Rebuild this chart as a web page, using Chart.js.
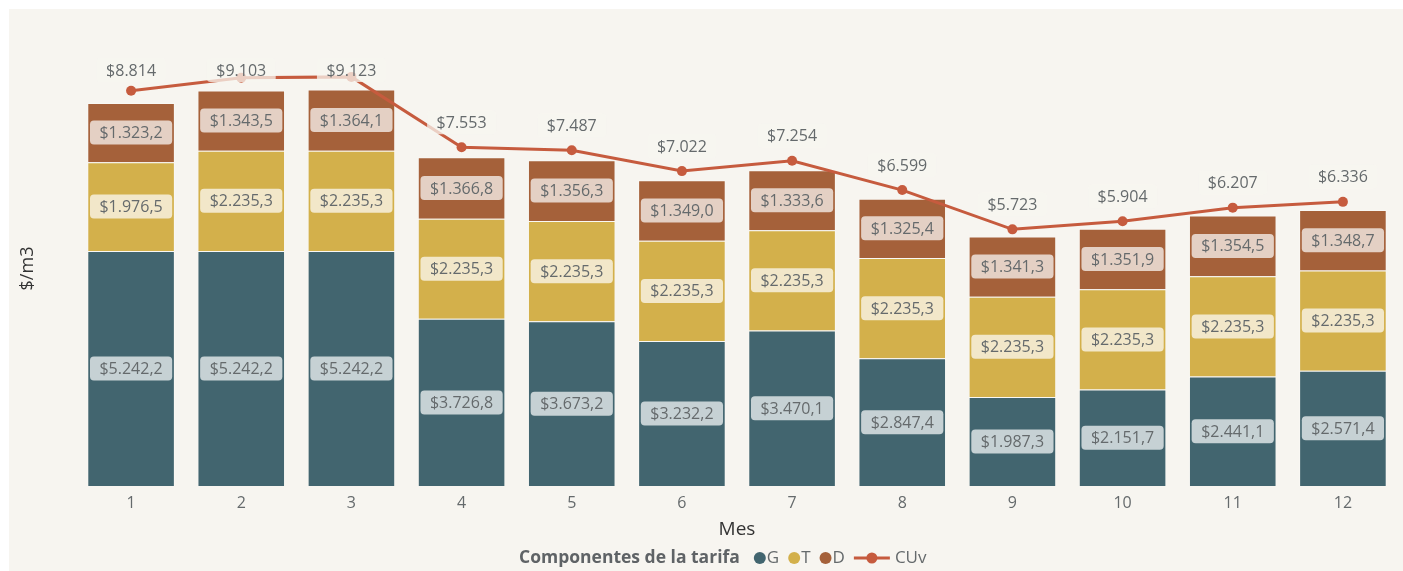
<!DOCTYPE html>
<html>
<head>
<meta charset="utf-8">
<script src="https://cdn.jsdelivr.net/npm/chart.js@4.4.1/dist/chart.umd.min.js"></script>
<style>
  html, body { margin: 0; padding: 0; background: #ffffff; }
  #wrap { width: 1403px; height: 571px; position: relative; }
</style>
</head>
<body>
<div id="wrap"><canvas id="tarifaChart" width="1403" height="571"></canvas></div>
<script>
// ─── Data ───
const meses = ['1', '2', '3', '4', '5', '6', '7', '8', '9', '10', '11', '12'];
const valoresG = [5242.2, 5242.2, 5242.2, 3726.8, 3673.2, 3232.2, 3470.1, 2847.4, 1987.3, 2151.7, 2441.1, 2571.4];
const valoresT = [1976.5, 2235.3, 2235.3, 2235.3, 2235.3, 2235.3, 2235.3, 2235.3, 2235.3, 2235.3, 2235.3, 2235.3];
const valoresD = [1323.2, 1343.5, 1364.1, 1366.8, 1356.3, 1349.0, 1333.6, 1325.4, 1341.3, 1351.9, 1354.5, 1348.7];
const valoresCUv = [8814, 9103, 9123, 7553, 7487, 7022, 7254, 6599, 5723, 5904, 6207, 6336];

const FONT = "'Open Sans', sans-serif";
const BG = '#f7f5f0';
const TEXT_GRAY = '#656a6c';

// 1.323,2 style formatting (dots for thousands, comma for decimals)
const fmt = (v, dec) => {
    const parts = v.toFixed(dec).split('.');
    const int = parts[0].replace(/\B(?=(\d{3})+(?!\d))/g, '.');
    return '$' + (parts[1] ? int + ',' + parts[1] : int);
};

const roundBox = (ctx, x, y, w, h, r) => {
    ctx.beginPath();
    ctx.moveTo(x + r, y);
    ctx.arcTo(x + w, y, x + w, y + h, r);
    ctx.arcTo(x + w, y + h, x, y + h, r);
    ctx.arcTo(x, y + h, x, y, r);
    ctx.arcTo(x, y, x + w, y, r);
    ctx.closePath();
};

const drawLabel = (ctx, text, cx, cy, fill) => {
    ctx.font = `16px ${FONT}`;
    const w = ctx.measureText(text).width + 19;
    const h = 24;
    ctx.fillStyle = fill;
    roundBox(ctx, cx - w / 2, cy - h / 2, w, h, 4);
    ctx.fill();
    ctx.fillStyle = TEXT_GRAY;
    ctx.textAlign = 'center';
    ctx.textBaseline = 'middle';
    ctx.fillText(text, cx, cy + 1);
};

// background with white margin on top/left
const backgroundPlugin = {
    id: 'bg',
    beforeDraw(chart) {
        const { ctx, width, height } = chart;
        ctx.save();
        ctx.fillStyle = '#ffffff';
        ctx.fillRect(0, 0, width, height);
        ctx.fillStyle = BG;
        ctx.fillRect(9, 9, width - 9, height - 9);
        ctx.restore();
    }
};

const labelsPlugin = {
    id: 'valueLabels',
    afterDatasetsDraw(chart) {
        const { ctx, chartArea } = chart;
        ctx.save();
        chart.data.datasets.forEach((ds, i) => {
            const meta = chart.getDatasetMeta(i);
            meta.data.forEach((el, j) => {
                const v = ds.data[j];
                if (ds.type === 'line') {
                    // labels sit above the point but never above the plot top
                    const cy = Math.max(el.y - 25, chartArea.top + 19);
                    drawLabel(ctx, fmt(v, 0), el.x, cy, 'rgba(247,245,240,0.75)');
                } else {
                    const cy = (el.y + el.base) / 2;
                    drawLabel(ctx, fmt(v, 1), el.x, cy, 'rgba(255,255,255,0.7)');
                }
            });
        });
        ctx.restore();
    }
};

const legendPlugin = {
    id: 'customLegend',
    afterDraw(chart) {
        const { ctx } = chart;
        const y = 558;
        let x = 519;
        ctx.save();
        ctx.textBaseline = 'middle';
        ctx.textAlign = 'left';
        ctx.font = `bold 17.5px ${FONT}`;
        ctx.fillStyle = '#5f6366';
        const title = 'Componentes de la tarifa';
        ctx.fillText(title, x, y);
        x += ctx.measureText(title).width + 20;
        ctx.font = `17px ${FONT}`;
        chart.data.datasets.forEach((ds) => {
            if (ds.type === 'line') {
                ctx.strokeStyle = ds.borderColor;
                ctx.lineWidth = 3;
                ctx.beginPath();
                ctx.moveTo(x - 6, y);
                ctx.lineTo(x + 30, y);
                ctx.stroke();
                ctx.fillStyle = ds.borderColor;
                ctx.beginPath();
                ctx.arc(x + 12, y, 5.5, 0, Math.PI * 2);
                ctx.fill();
                x += 35;
            } else {
                ctx.fillStyle = ds.backgroundColor;
                ctx.beginPath();
                ctx.arc(x, y, 6, 0, Math.PI * 2);
                ctx.fill();
                x += 7;
            }
            ctx.fillStyle = TEXT_GRAY;
            ctx.fillText(ds.label, x, y);
            x += ctx.measureText(ds.label).width + 15;
        });
        ctx.restore();
    }
};

const ctx = document.getElementById('tarifaChart');

new Chart(ctx, {
    type: 'bar',
    data: {
        labels: meses,
        datasets: [
            {
                label: 'G',
                data: valoresG,
                backgroundColor: '#42656f',
                borderColor: 'rgba(255,255,255,0.3)',
                borderWidth: 1,
                order: 1
            },
            {
                label: 'T',
                data: valoresT,
                backgroundColor: '#d3b04b',
                borderColor: 'rgba(255,255,255,0.3)',
                borderWidth: 1,
                order: 1
            },
            {
                label: 'D',
                data: valoresD,
                backgroundColor: '#a5613a',
                borderColor: 'rgba(255,255,255,0.3)',
                borderWidth: 1,
                order: 1
            },
            {
                type: 'line',
                label: 'CUv',
                data: valoresCUv,
                borderColor: '#c65b3e',
                backgroundColor: '#c65b3e',
                borderWidth: 3,
                pointRadius: 5,
                pointBackgroundColor: '#c65b3e',
                pointBorderWidth: 0,
                tension: 0,
                order: 0
            }
        ]
    },
    options: {
        responsive: false,
        animation: false,
        layout: {
            padding: { left: 12, right: 0, top: 51, bottom: 30 }
        },
        datasets: {
            bar: {
                categoryPercentage: 1,
                barPercentage: 0.795
            }
        },
        plugins: {
            legend: { display: false },
            tooltip: { enabled: false }
        },
        scales: {
            x: {
                stacked: true,
                grid: { display: false, drawTicks: false },
                border: { display: false },
                ticks: {
                    color: TEXT_GRAY,
                    padding: 8,
                    font: { family: FONT, size: 16 }
                },
                title: {
                    display: true,
                    text: 'Mes',
                    color: '#333333',
                    padding: { top: 2, bottom: 0 },
                    font: { family: FONT, size: 19 }
                },
                afterFit(scale) {
                    scale.height = 55;
                }
            },
            y: {
                stacked: true,
                min: 0,
                max: 9700,
                grid: { display: false, drawTicks: false },
                border: { display: false },
                ticks: { display: false },
                title: {
                    display: true,
                    text: '$/m3',
                    color: '#333333',
                    padding: { top: 5, bottom: 4 },
                    font: { family: FONT, size: 18 }
                },
                afterFit(scale) {
                    scale.width = 64;
                }
            }
        }
    },
    plugins: [backgroundPlugin, labelsPlugin, legendPlugin]
});
</script>
</body>
</html>
